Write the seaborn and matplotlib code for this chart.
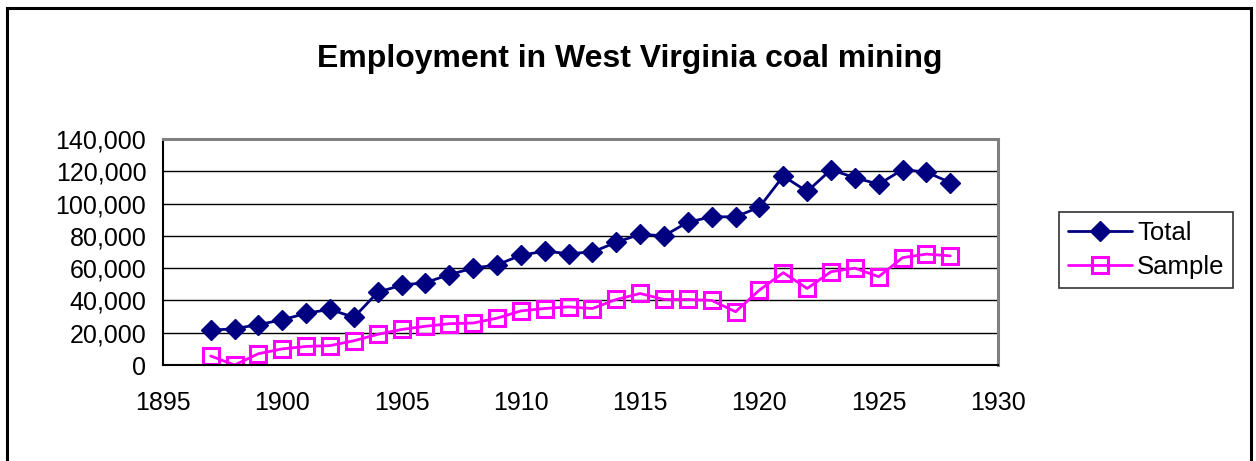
import numpy as np
import pandas as pd
import matplotlib
matplotlib.use("Agg")
import matplotlib.pyplot as plt
import matplotlib.ticker as mticker
from matplotlib.patches import Rectangle
import seaborn as sns

years = list(range(1897, 1929))
total = [21500, 22500, 25000, 28000, 32000, 34500, 29500, 45000, 49500, 51000,
         56000, 60000, 62000, 68000, 70500, 69000, 70000, 76000, 81000, 80000,
         88500, 91800, 91800, 97800, 117000, 107500, 121000, 116000, 112000,
         121000, 119500, 113000]
sample = [5600, 0, 7000, 10000, 11500, 12000, 15000, 19000, 22000, 24000,
          25600, 26000, 29000, 33500, 35000, 36000, 35000, 40600, 44300, 40600,
          40600, 40000, 33000, 46400, 57200, 47400, 57800, 60000, 54700, 66500,
          68700, 67600]
title = "Employment in West Virginia coal mining"
x_ticks = [1895, 1900, 1905, 1910, 1915, 1920, 1925, 1930]
y_ticks = [0, 20000, 40000, 60000, 80000, 100000, 120000, 140000]

df = pd.DataFrame({"Year": years, "Total": total, "Sample": sample})

sns.set_theme(style="white")
plt.rcParams["font.family"] = ["Liberation Sans", "DejaVu Sans"]
plt.rcParams["text.color"] = "black"

fig = plt.figure(figsize=(12.56, 4.61), dpi=100)
ax = fig.add_axes([163 / 1256, 1 - 365 / 461, (998 - 163) / 1256, (365 - 139) / 461])

sns.lineplot(data=df, x="Year", y="Total", ax=ax, color="#000080", lw=2,
             marker="D", markersize=10, markerfacecolor="#000080",
             markeredgecolor="#000080", markeredgewidth=1, label="Total", zorder=4)
sns.lineplot(data=df, x="Year", y="Sample", ax=ax, color="#FF00FF", lw=2,
             marker="s", markersize=11, markerfacecolor="none",
             markeredgecolor="#FF00FF", markeredgewidth=2.2, label="Sample", zorder=3)

ax.set_xlim(1895, 1930)
ax.set_ylim(0, 140000)
ax.set_xticks(x_ticks)
ax.set_yticks(y_ticks)
ax.yaxis.set_major_formatter(mticker.FuncFormatter(lambda v, p: f"{int(v):,}"))
ax.set_xlabel("")
ax.set_ylabel("")
ax.grid(axis="y", color="#000000", lw=1)
ax.set_axisbelow(True)
ax.tick_params(axis="both", direction="inout", length=12, width=1.3,
               colors="black", labelsize=18, labelcolor="black")
ax.tick_params(axis="y", pad=6)
ax.tick_params(axis="x", pad=13)
for s in ["left", "bottom"]:
    ax.spines[s].set_color("black")
    ax.spines[s].set_linewidth(1.5)
for s in ["top", "right"]:
    ax.spines[s].set_color("#808080")
    ax.spines[s].set_linewidth(2.2)
ax.spines["bottom"].set_zorder(5)

ax.legend_.remove()
handles, labels = ax.get_legend_handles_labels()
leg = fig.legend(handles, labels, loc="center",
                 bbox_to_anchor=(1146 / 1256, 1 - 250 / 461),
                 fontsize=18.5, frameon=True, fancybox=False, shadow=False,
                 handlelength=2.5, handletextpad=0.2, labelspacing=0.4,
                 borderpad=0.35, borderaxespad=0, labelcolor="black")
leg.get_frame().set_edgecolor("black")
leg.get_frame().set_linewidth(1.2)

fig.text(630 / 1256, 1 - 59 / 461, title, ha="center", va="center",
         fontsize=23, fontweight="bold", color="black")

border = Rectangle((7, 461 - 8 - 600), 1244, 600, transform=None,
                   fill=False, edgecolor="black", lw=2.2, figure=fig)
fig.patches.append(border)

fig.savefig("out.png", dpi=100)
